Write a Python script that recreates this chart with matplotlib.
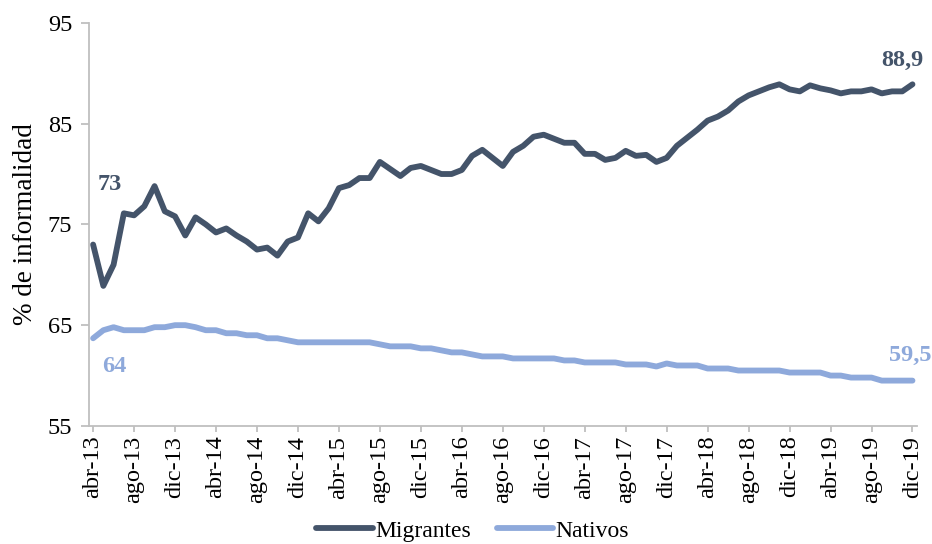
import matplotlib
matplotlib.use('Agg')
import matplotlib.pyplot as plt
import numpy as np

# monthly series, abr-13 .. dic-19
meses = ['ene', 'feb', 'mar', 'abr', 'may', 'jun', 'jul', 'ago', 'sep', 'oct', 'nov', 'dic']
periodos = [f'{meses[(m - 1) % 12]}-{13 + (m - 1) // 12}' for m in range(4, 4 + 81)]

migrantes = [73.0, 68.9, 71.0, 76.1, 75.9, 76.8, 78.8, 76.3, 75.8, 73.9,
             75.7, 75.0, 74.2, 74.6, 73.9, 73.3, 72.5, 72.7, 71.9, 73.3,
             73.7, 76.1, 75.3, 76.6, 78.6, 78.9, 79.6, 79.6, 81.2, 80.5,
             79.8, 80.6, 80.8, 80.4, 80.0, 80.0, 80.4, 81.8, 82.4, 81.6,
             80.8, 82.2, 82.8, 83.7, 83.9, 83.5, 83.1, 83.1, 82.0, 82.0,
             81.4, 81.6, 82.3, 81.8, 81.9, 81.2, 81.6, 82.8, 83.6, 84.4,
             85.3, 85.7, 86.3, 87.2, 87.8, 88.2, 88.6, 88.9, 88.4, 88.2,
             88.8, 88.5, 88.3, 88.0, 88.2, 88.2, 88.4, 88.0, 88.2, 88.2,
             88.9]

nativos = [63.7, 64.5, 64.8, 64.5, 64.5, 64.5, 64.8, 64.8, 65.0, 65.0,
           64.8, 64.5, 64.5, 64.2, 64.2, 64.0, 64.0, 63.7, 63.7, 63.5,
           63.3, 63.3, 63.3, 63.3, 63.3, 63.3, 63.3, 63.3, 63.1, 62.9,
           62.9, 62.9, 62.7, 62.7, 62.5, 62.3, 62.3, 62.1, 61.9, 61.9,
           61.9, 61.7, 61.7, 61.7, 61.7, 61.7, 61.5, 61.5, 61.3, 61.3,
           61.3, 61.3, 61.1, 61.1, 61.1, 60.9, 61.2, 61.0, 61.0, 61.0,
           60.7, 60.7, 60.7, 60.5, 60.5, 60.5, 60.5, 60.5, 60.3, 60.3,
           60.3, 60.3, 60.0, 60.0, 59.8, 59.8, 59.8, 59.5, 59.5, 59.5,
           59.5]

c_mig = '#44546A'
c_nat = '#8EA9DB'
grey = '#BFBFBF'

plt.rcParams['font.family'] = ['Liberation Serif', 'DejaVu Serif']

fig = plt.figure(figsize=(9.32, 5.44), dpi=100)
ax = fig.add_axes([0.0955, 0.217, 0.8885, 0.741])

x = np.arange(len(periodos))
ax.plot(x, migrantes, color=c_mig, lw=4.2, solid_capstyle='round', solid_joinstyle='round', label='Migrantes')
ax.plot(x, nativos, color=c_nat, lw=4.2, solid_capstyle='round', solid_joinstyle='round', label='Nativos')

# data labels at start and end
ax.text(1.6, 79.0, '73', color=c_mig, fontsize=17.5, fontweight='bold', ha='center', va='center')
ax.text(2.1, 60.9, '64', color=c_nat, fontsize=17.5, fontweight='bold', ha='center', va='center')
ax.text(79.0, 91.25, '88,9', color=c_mig, fontsize=17.5, fontweight='bold', ha='center', va='center')
ax.text(79.75, 62.0, '59,5', color=c_nat, fontsize=17.5, fontweight='bold', ha='center', va='center')

ax.set_xlim(-0.4, 80.45)
ax.set_ylim(55, 95)
ax.set_yticks([55, 65, 75, 85, 95])
ax.set_xticks(x[::4])
ax.set_xticklabels(periodos[::4], rotation=90)

for s in ['top', 'right']:
    ax.spines[s].set_visible(False)
for s in ['left', 'bottom']:
    ax.spines[s].set_color(grey)
    ax.spines[s].set_linewidth(1.3)
ax.tick_params(axis='y', length=6, width=1.3, color=grey, labelsize=17.5, pad=6)
ax.tick_params(axis='x', length=4, width=1.3, color=grey, labelsize=17.5, pad=3)
ax.set_ylabel('% de informalidad', fontsize=19.5, labelpad=7)

fig.legend(loc='center', bbox_to_anchor=(0.507, 0.024), ncol=2, frameon=False,
           fontsize=17, handlelength=2.4, handletextpad=0.1, columnspacing=1.1)

fig.savefig('out.png', dpi=100)
